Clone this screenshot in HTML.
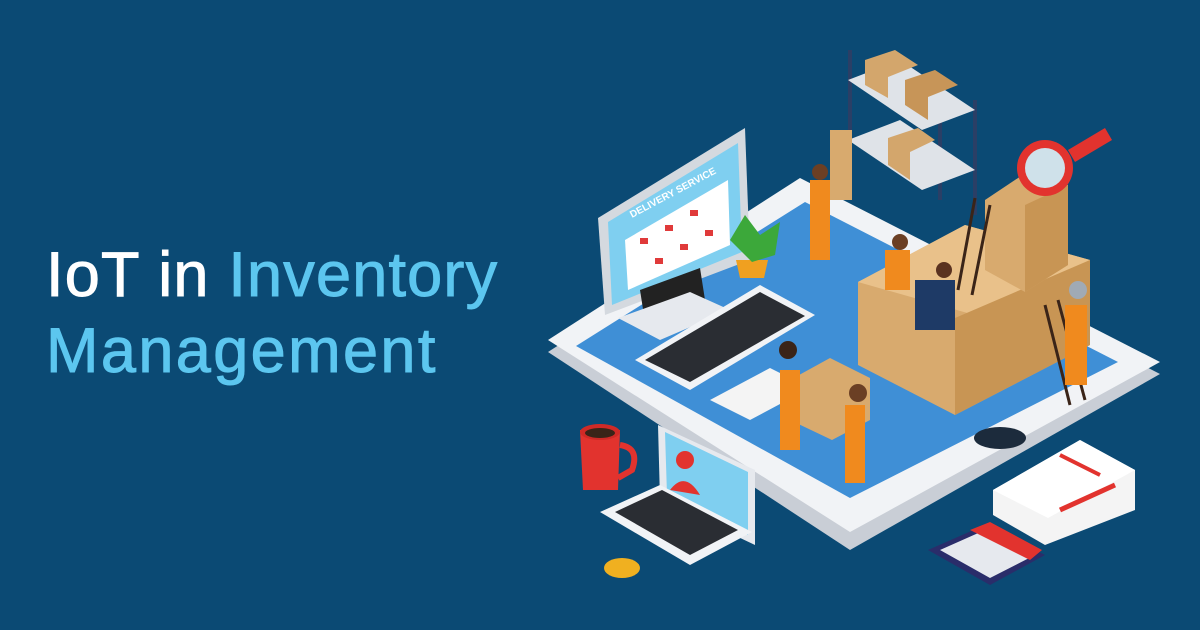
<!DOCTYPE html>
<html><head><meta charset="utf-8"><style>
html,body{margin:0;padding:0}
body{width:1200px;height:630px;background:#0b4a74;overflow:hidden;position:relative;font-family:"Liberation Sans",sans-serif}
.t{position:absolute;left:46px;font-size:63px;font-weight:400;color:#fff;letter-spacing:1.2px;line-height:1;-webkit-text-stroke:1px currentColor}
.b{color:#5cc6ef}
svg{position:absolute;left:0;top:0}
</style></head><body>
<div class="t" style="top:244px">IoT in <span class="b">Inventory</span></div>
<div class="t b" style="top:320px;letter-spacing:2.4px">Management</div>
<svg width="1200" height="630" viewBox="0 0 1200 630">
<polygon points="548,352 800,190 1160,374 850,550" fill="#c9ced6"/>
<polygon points="548,340 800,178 1160,362 850,532" fill="#f1f3f6"/>
<polygon points="576,346 805,202 1118,362 850,498" fill="#3f8fd6"/>
<ellipse cx="1000" cy="438" rx="26" ry="11" fill="#1c2b3c"/>
<g stroke="#2a3f66" stroke-width="4"><line x1="850" y1="50" x2="850" y2="175"/><line x1="975" y1="100" x2="975" y2="215"/><line x1="940" y1="90" x2="940" y2="200"/></g>
<polygon points="848,80 900,60 975,110 922,130" fill="#dfe3e8"/>
<polygon points="848,140 900,120 975,170 922,190" fill="#dfe3e8"/>
<polygon points="865,60 895,50 918,65 888,77 888,98 865,85" fill="#d3a66c"/>
<polygon points="905,80 935,70 958,85 928,97 928,120 905,105" fill="#c79558"/>
<polygon points="888,138 918,128 935,140 910,152 910,180 888,165" fill="#d3a66c"/>
<polygon points="858,282 965,225 1090,260 1090,345 955,415 858,365" fill="#d8aa6e"/>
<polygon points="858,282 965,225 1090,260 985,318" fill="#e9c18a"/>
<polygon points="955,318 1090,260 1090,345 955,415" fill="#c89554"/>
<polygon points="985,200 1030,170 1068,185 1068,265 1025,292 985,270" fill="#d8aa6e"/>
<polygon points="1025,205 1068,185 1068,265 1025,292" fill="#c89554"/>
<circle cx="1045" cy="168" r="28" fill="#e2332e"/><circle cx="1045" cy="168" r="20" fill="#cfe1ea"/>
<polygon points="1068,150 1105,128 1112,140 1075,162" fill="#e2332e"/>
<g stroke="#3a2418" stroke-width="3"><line x1="958" y1="290" x2="975" y2="198"/><line x1="972" y1="295" x2="990" y2="205"/><line x1="1045" y1="305" x2="1070" y2="405"/><line x1="1058" y1="300" x2="1085" y2="400"/></g>
<polygon points="598,218 745,128 750,260 605,315" fill="#d4d9df"/>
<polygon points="608,222 738,143 742,252 612,305" fill="#7fcff0"/>
<polygon points="625,240 728,180 730,245 628,290" fill="#fff"/>
<g fill="#e03a3a"><rect x="640" y="238" width="8" height="6"/><rect x="665" y="225" width="8" height="6"/><rect x="690" y="210" width="8" height="6"/><rect x="655" y="258" width="8" height="6"/><rect x="680" y="244" width="8" height="6"/><rect x="705" y="230" width="8" height="6"/></g>
<text x="632" y="218" font-size="10" font-weight="700" fill="#fff" transform="rotate(-28 632 218)">DELIVERY SERVICE</text>
<polygon points="640,290 700,268 705,300 645,322" fill="#222"/>
<polygon points="618,318 690,292 730,310 660,340" fill="#e6e9ee"/>
<polygon points="635,360 760,285 815,315 690,390" fill="#f1f3f6"/>
<polygon points="645,360 760,292 805,316 690,382" fill="#2a2d33"/>
<polygon points="736,260 768,260 764,278 740,278" fill="#f0a020"/>
<polygon points="752,262 730,240 745,215 760,235 780,222 775,255" fill="#3ca83a"/>
<polygon points="710,400 770,368 810,388 750,420" fill="#f4f4f4"/>
<polygon points="790,380 830,358 870,378 870,420 832,440 790,420" fill="#d8aa6e"/>
<g>
<rect x="810" y="180" width="20" height="80" fill="#f08a1e"/><circle cx="820" cy="172" r="8" fill="#6b3f24"/><rect x="830" y="130" width="22" height="70" fill="#d8aa6e"/>
<rect x="885" y="250" width="25" height="40" fill="#f08a1e"/><circle cx="900" cy="242" r="8" fill="#6b3f24"/>
<rect x="915" y="280" width="40" height="50" fill="#1e3a66"/><circle cx="944" cy="270" r="8" fill="#5a3220"/>
<rect x="780" y="370" width="20" height="80" fill="#f08a1e"/><circle cx="788" cy="350" r="9" fill="#3a2418"/>
<rect x="845" y="405" width="20" height="78" fill="#f08a1e"/><circle cx="858" cy="393" r="9" fill="#6b3f24"/>
<rect x="1065" y="305" width="22" height="80" fill="#f08a1e"/><circle cx="1078" cy="290" r="9" fill="#a0aab5"/>
</g>
<polygon points="580,430 620,430 618,490 583,490" fill="#e2332e"/><ellipse cx="600" cy="432" rx="20" ry="8" fill="#d02a26"/><ellipse cx="600" cy="433" rx="15" ry="5" fill="#3a2418"/>
<path d="M620 445 Q640 448 632 470 L618 478" stroke="#e2332e" stroke-width="6" fill="none"/>
<polygon points="658,425 755,470 755,545 660,500" fill="#e6e9ee"/>
<polygon points="665,432 748,472 748,535 667,495" fill="#7fcff0"/>
<circle cx="685" cy="460" r="9" fill="#e2332e"/><path d="M670 490 Q685 470 700 495Z" fill="#e2332e"/>
<polygon points="600,512 660,485 752,532 690,565" fill="#f1f3f6"/>
<polygon points="615,512 662,490 738,530 690,555" fill="#2a2d33"/>
<ellipse cx="622" cy="568" rx="18" ry="10" fill="#f0b020"/>
<polygon points="993,490 1080,440 1135,470 1135,510 1045,545 993,515" fill="#f4f4f4"/>
<polygon points="993,490 1080,440 1135,470 1048,518" fill="#fff"/>
<line x1="1060" y1="455" x2="1100" y2="475" stroke="#e2332e" stroke-width="4"/>
<line x1="1060" y1="510" x2="1115" y2="485" stroke="#e2332e" stroke-width="5"/>
<polygon points="928,550 985,525 1045,555 990,585" fill="#2a2d6a"/>
<polygon points="940,550 985,530 1035,555 990,578" fill="#e6e9ee"/>
<polygon points="970,530 990,522 1042,550 1030,560" fill="#e2332e"/>
</svg>
</body></html>
